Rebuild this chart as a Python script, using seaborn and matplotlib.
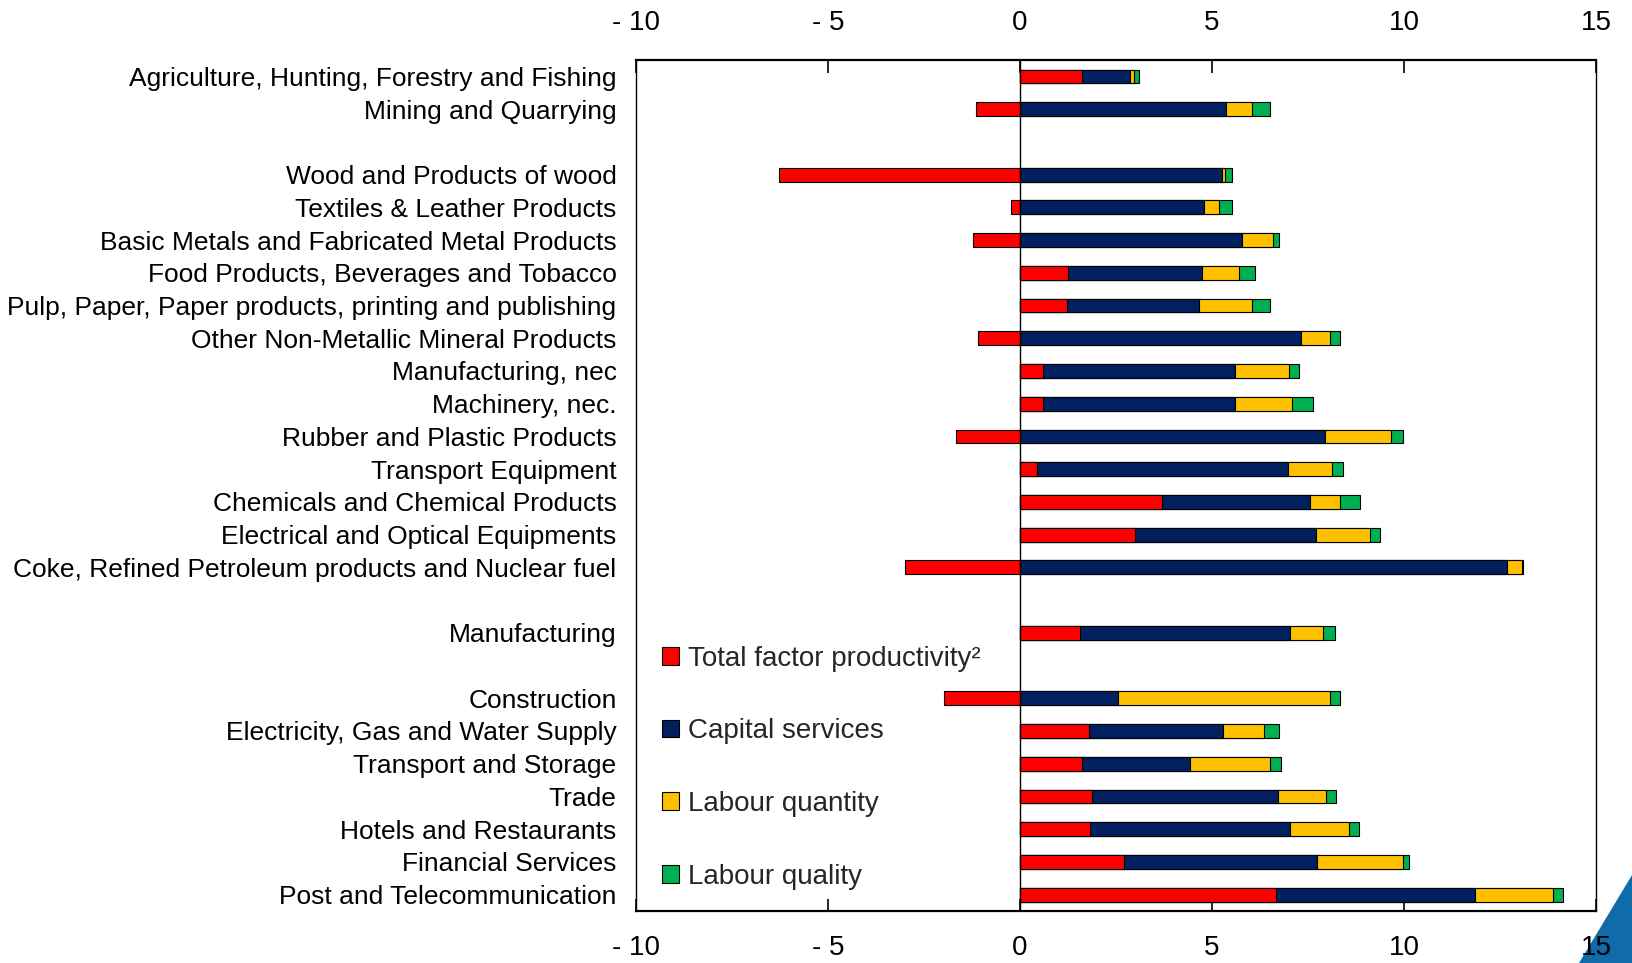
import matplotlib
matplotlib.use("Agg")
import matplotlib.pyplot as plt
from matplotlib import font_manager
from matplotlib.patches import Patch, Polygon
import seaborn as sns
import pandas as pd
import numpy as np

# ---------------- data ----------------
sectors = [
    "Agriculture, Hunting, Forestry and Fishing",
    "Mining and Quarrying",
    "Wood and Products of wood",
    "Textiles & Leather Products",
    "Basic Metals and Fabricated Metal Products",
    "Food Products, Beverages and Tobacco",
    "Pulp, Paper, Paper products, printing and publishing",
    "Other Non-Metallic Mineral Products",
    "Manufacturing, nec",
    "Machinery, nec.",
    "Rubber and Plastic Products",
    "Transport Equipment",
    "Chemicals and Chemical Products",
    "Electrical and Optical Equipments",
    "Coke, Refined Petroleum products and Nuclear fuel",
    "Manufacturing",
    "Construction",
    "Electricity, Gas and Water Supply",
    "Transport and Storage",
    "Trade",
    "Hotels and Restaurants",
    "Financial Services",
    "Post and Telecommunication",
]
tfp = [1.61, -1.15, -6.28, -0.23, -1.23, 1.26, 1.21, -1.10, 0.60, 0.61, -1.68, 0.43,
       3.70, 2.99, -2.99, 1.56, -1.99, 1.79, 1.61, 1.88, 1.81, 2.72, 6.66]
capital = [1.25, 5.37, 5.25, 4.78, 5.78, 3.49, 3.46, 7.31, 5.00, 5.00, 7.94, 6.54,
           3.84, 4.72, 12.69, 5.48, 2.54, 3.50, 2.81, 4.83, 5.23, 5.02, 5.18]
labour_qty = [0.12, 0.66, 0.08, 0.40, 0.80, 0.95, 1.36, 0.76, 1.41, 1.48, 1.71, 1.15,
              0.80, 1.40, 0.38, 0.86, 5.53, 1.05, 2.09, 1.25, 1.53, 2.23, 2.03]
labour_qual = [0.12, 0.48, 0.18, 0.33, 0.17, 0.43, 0.48, 0.25, 0.25, 0.55, 0.32, 0.30,
               0.50, 0.27, 0.03, 0.30, 0.25, 0.40, 0.28, 0.27, 0.25, 0.17, 0.27]
series_names = ["Total factor productivity\u00b2", "Capital services",
                "Labour quantity", "Labour quality"]
# category order with blank spacer rows
row_order = (sectors[0:2] + [" "] + sectors[2:15] + ["  "] + [sectors[15]] + ["   "]
             + sectors[16:])
xtick_values = [-10, -5, 0, 5, 10, 15]
xtick_labels = ["- 10", "- 5", "0", "5", "10", "15"]

colors = ["#FF0000", "#002060", "#FFC000", "#00B050"]

# ---------------- style ----------------
sns.set_theme(style="white")
avail = {f.name for f in font_manager.fontManager.ttflist}
main_font = "Liberation Sans Narrow" if "Liberation Sans Narrow" in avail else "Liberation Sans"
plt.rcParams["font.family"] = [main_font, "DejaVu Sans"]

df = pd.DataFrame({"sector": sectors, "tfp": tfp, "cap": capital,
                   "lq": labour_qty, "lql": labour_qual})
pos_base = df["tfp"].clip(lower=0)
df["c_red"] = pos_base
df["c_cap"] = pos_base + df["cap"]
df["c_lq"] = df["c_cap"] + df["lq"]
df["c_lql"] = df["c_lq"] + df["lql"]
df["neg_red"] = df["tfp"].clip(upper=0)

fig = plt.figure(figsize=(16.32, 9.63), dpi=100)

# corner decoration (behind everything)
tri = Polygon([[1517 / 1568, 0.0], [1.0, 0.0], [1.0, 1 - 840 / 925]], closed=True,
              transform=fig.transFigure, facecolor="#0F6BAA", edgecolor="none", zorder=-5)
fig.patches.append(tri)

ax = fig.add_axes([0.3897, 0.054, 0.5883, 0.8836])
ax.set_zorder(1)
ax.patch.set_alpha(0)

bw = 0.42
kw = dict(y="sector", order=row_order, orient="h", width=bw, ax=ax,
          edgecolor="black", linewidth=0.8, errorbar=None, saturation=1)
sns.barplot(data=df, x="c_lql", color=colors[3], **kw)
sns.barplot(data=df, x="c_lq", color=colors[2], **kw)
sns.barplot(data=df, x="c_cap", color=colors[1], **kw)
sns.barplot(data=df[df["c_red"] > 0], x="c_red", color=colors[0], **kw)
sns.barplot(data=df[df["neg_red"] < 0], x="neg_red", color=colors[0], **kw)

ax.axvline(0, color="black", linewidth=1.0, zorder=5)

ax.set_xlim(-10, 15)
ax.set_ylim(len(row_order) - 0.5, -0.5)
ax.set_xlabel("")
ax.set_ylabel("")
ax.set_xticks(xtick_values)
ax.set_xticklabels(xtick_labels)
ax.tick_params(axis="x", which="both", direction="in", length=9, width=1.2,
               color="black", top=True, bottom=True, labeltop=True, labelbottom=True,
               labelsize=20, pad=17)
ax.tick_params(axis="y", length=0, labelsize=19, pad=14)
for lbl in ax.get_yticklabels():
    lbl.set_color("black")
for lbl in ax.get_xticklabels():
    lbl.set_color("black")
for side, sp in ax.spines.items():
    sp.set_visible(True)
    sp.set_color("black")
    sp.set_linewidth(1.6 if side in ("top", "bottom") else 1.0)

handles = [Patch(facecolor=c, edgecolor="black", linewidth=0.8) for c in colors]
ax.legend(handles, series_names, loc="upper left", bbox_to_anchor=(0.027, 0.312),
          frameon=False, fontsize=20, borderpad=0, borderaxespad=0,
          handlelength=0.6, handleheight=0.6, handletextpad=0.35, labelspacing=1.68)

fig.savefig("out.png", dpi=100)
